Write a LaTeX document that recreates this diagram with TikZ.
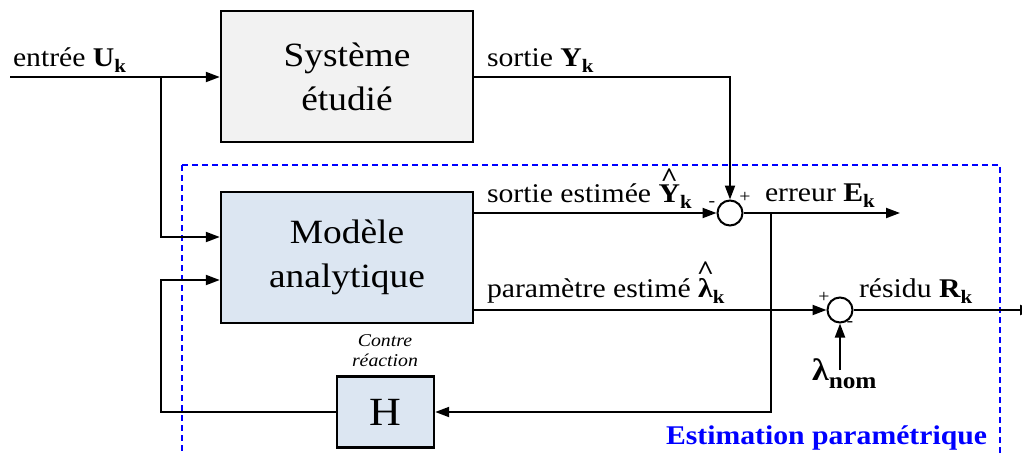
\documentclass[tikz,border=0pt]{standalone}
\usepackage{fontspec}
\setmainfont[FakeStretch=1.1]{Liberation Serif}
\usetikzlibrary{arrows.meta}
\definecolor{boxgray}{HTML}{F2F2F2}
\definecolor{boxblue}{HTML}{DCE6F2}
\definecolor{estblue}{HTML}{0000FF}
\newcommand\fs[1]{\fontsize{#1}{#1}\selectfont}
\newcommand\subk[1]{\raisebox{-6pt}{\fs{19}\bfseries #1}}
\newsavebox\hatbox
\newcommand\hatx[1]{\sbox\hatbox{#1}\rlap{\hbox to\wd\hatbox{\hss\raisebox{\dimexpr\ht\hatbox-2pt\relax}{\bfseries\char"5E}\hss}}\usebox\hatbox}
\begin{document}
\begin{tikzpicture}[x=1pt,y=-1pt, line width=2pt,
  blk/.style={draw, line width=2.4pt, minimum width=252pt, minimum height=131pt, inner sep=0pt, align=center, font=\fontsize{34}{44}\selectfont},
  sumc/.style={draw, circle, minimum size=25pt, inner sep=0pt, line width=2pt},
  arr/.style={-{Triangle[length=14pt,width=10pt]}},
  lbl/.style={anchor=base west, inner sep=0pt, font=\fs{27}},
  sgn/.style={inner sep=0pt, font=\fs{18}}]
\useasboundingbox (0,0) rectangle (1022,453);
% dashed estimation frame
\draw[estblue, line width=2pt, dash pattern=on 6pt off 4pt] (182,165) rectangle (1000,480);
% blocks
\node[blk, fill=boxgray] (sys) at (347,76.5) {Système\\étudié};
\node[blk, fill=boxblue] (mod) at (347,257.5) {Modèle\\analytique};
\node[draw, line width=2.4pt, fill=boxblue, minimum width=97pt, minimum height=71pt, inner sep=0pt, font=\fs{40}] (H) at (385.5,412) {H};
\node[sumc] (s1) at (730,213) {};
\node[sumc] (s2) at (840,310) {};
% coordinates
\coordinate (in) at (10,77);
\coordinate (b1) at (161,77);
\coordinate (y237) at (0,237);
\coordinate (fb) at (161,280);
\coordinate (eout) at (900,213);
\coordinate (br) at (771,213);
\coordinate (rout) at (1034,310);
\coordinate (lnom) at (840,370);
% connectors
\draw[arr] (in) -- (in -| sys.west);
\draw[arr] (b1) |- (mod.west |- y237);
\draw[arr] (H.west) -| (fb) -- (mod.west |- fb);
\draw[arr] (sys.east) -| (s1.north);
\draw[arr] (mod.east |- s1) -- (s1.west);
\draw[arr] (s1.east) -- (eout);
\draw[arr] (br) |- (H.east);
\draw[arr] (mod.east |- s2) -- (s2.west);
\draw[arr] (s2.east) -- (rout);
\draw[arr] (lnom) -- (s2.south);
% labels
\node[lbl] (lu) at (12,66) {entrée \textbf{U}\subk{k}};
\node[lbl] (ly) at (486,66) {sortie \textbf{Y}\subk{k}};
\node[lbl] (lye) at (486,202) {sortie estimée \hatx{\textbf{Y}}\subk{k}};
\node[lbl] (le) at (764,201) {erreur \textbf{E}\subk{k}};
\node[lbl] (lp) at (486,297) {paramètre estimé \hatx{\textbf{λ}}\subk{k}};
\node[lbl] (lr) at (858,297) {résidu \textbf{R}\subk{k}};
\node[anchor=base east, inner sep=0pt, text=estblue, font=\fs{27}\bfseries] (est) at (988,444) {Estimation paramétrique};
\node[font=\fontsize{18}{20}\selectfont\itshape, align=center, inner sep=0pt] (cr) at (385,351) {Contre\\réaction};
\node[anchor=base west, inner sep=0pt] (ln) at (811,380) {\fs{31}\bfseries λ\raisebox{-8pt}{\fs{23}\bfseries nom}};
\node[sgn] (m1) at (712,204) {-};
\node[sgn] (p1) at (745,197) {+};
\node[sgn] (p2) at (824,297) {+};
\node[sgn] (m2) at (850,324) {-};
\end{tikzpicture}
\end{document}
